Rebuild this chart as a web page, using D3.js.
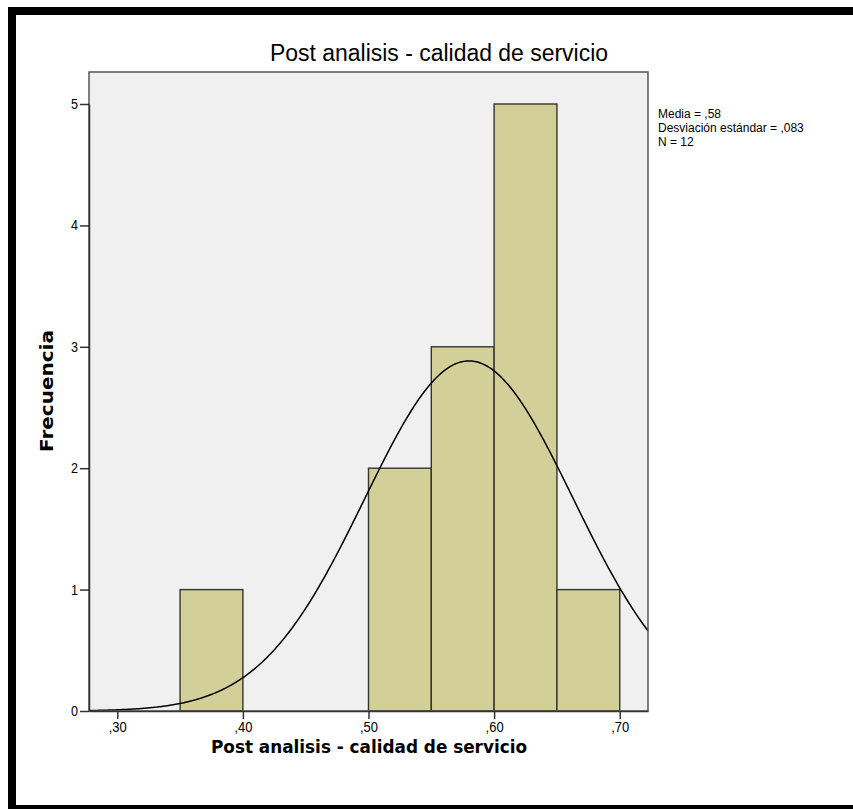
<!DOCTYPE html>
<html>
<head>
<meta charset="utf-8">
<script src="https://cdn.jsdelivr.net/npm/d3@7/dist/d3.min.js"></script>
<style>
  html, body { margin: 0; padding: 0; background: #fff; }
  svg { display: block; }
  text { font-family: "Liberation Sans", Arial, sans-serif; fill: #000; }
</style>
</head>
<body>
<script>
// Histogram bins (class limits) and their frequencies
const binStart = [0.35, 0.50, 0.55, 0.60, 0.65];
const binEnd   = [0.40, 0.55, 0.60, 0.65, 0.70];
const counts   = [1, 2, 3, 5, 1];

// Summary statistics shown beside the plot
const mean = 0.58;
const stdDev = 0.083;
const nObs = 12;
const binWidth = 0.05;

const xTicks = [0.30, 0.40, 0.50, 0.60, 0.70];
const xTickLabels = [",30", ",40", ",50", ",60", ",70"];
const yTicks = [0, 1, 2, 3, 4, 5];
const statLines = ["Media = ,58", "Desviación estándar = ,083", "N = 12"];

const title = "Post analisis - calidad de servicio";
const xTitle = "Post analisis - calidad de servicio";
const yTitle = "Frecuencia";

const W = 853, H = 809;
const plot = { left: 89, right: 648, top: 72, bottom: 711 };

const svg = d3.select("body").append("svg").attr("width", W).attr("height", H);

// heavy frame around the chart
svg.append("path")
  .attr("d", `M8,7H853V809H8Z M16,15V805H853V15Z`)
  .attr("fill", "#000")
  .attr("fill-rule", "evenodd");

const x = d3.scaleLinear().domain([0.2775, 0.7225]).range([plot.left, plot.right]);
const y = d3.scaleLinear().domain([0, 5]).range([plot.bottom, plot.bottom - 5 * 121.4]);

// plot background
svg.append("rect")
  .attr("x", plot.left).attr("y", plot.top)
  .attr("width", plot.right - plot.left).attr("height", plot.bottom - plot.top)
  .attr("fill", "#f0f0f0");

// bars
svg.append("g").selectAll("rect")
  .data(counts)
  .join("rect")
  .attr("x", (d, i) => x(binStart[i]))
  .attr("width", (d, i) => x(binEnd[i]) - x(binStart[i]))
  .attr("y", d => y(d))
  .attr("height", d => y(0) - y(d))
  .attr("fill", "#d3cf98")
  .attr("stroke", "#35352c")
  .attr("stroke-width", 1.4);

// fitted normal curve scaled to frequency
const normal = v => nObs * binWidth / (stdDev * Math.sqrt(2 * Math.PI)) *
  Math.exp(-0.5 * Math.pow((v - mean) / stdDev, 2));
const xs = d3.range(0, 401).map(i => x.domain()[0] + (x.domain()[1] - x.domain()[0]) * i / 400);
svg.append("path")
  .datum(xs)
  .attr("d", d3.line().x(v => x(v)).y(v => y(normal(v))))
  .attr("fill", "none")
  .attr("stroke", "#000")
  .attr("stroke-width", 1.5);

// plot frame
svg.append("rect")
  .attr("x", plot.left).attr("y", plot.top)
  .attr("width", plot.right - plot.left).attr("height", plot.bottom - plot.top)
  .attr("fill", "none")
  .attr("stroke", "#555")
  .attr("stroke-width", 1.5);

// axes
const xAxis = d3.axisBottom(x).tickValues(xTicks)
  .tickFormat((d, i) => xTickLabels[i]).tickSize(8).tickSizeOuter(0).tickPadding(3);
const gx = svg.append("g").attr("transform", `translate(0,${plot.bottom})`).call(xAxis);
gx.select(".domain").attr("stroke", "#333").attr("stroke-width", 1.5);
gx.selectAll(".tick line").attr("stroke", "#333").attr("stroke-width", 1.5);
gx.selectAll(".tick text").attr("font-size", 14).attr("fill", "#000")
  .attr("textLength", 18).attr("lengthAdjust", "spacingAndGlyphs")
  .style("font-family", "'Liberation Sans', sans-serif");

const yAxis = d3.axisLeft(y).tickValues(yTicks).tickFormat(d3.format("d"))
  .tickSize(9).tickSizeOuter(0).tickPadding(2);
const gy = svg.append("g").attr("transform", `translate(${plot.left},0)`).call(yAxis);
gy.select(".domain").attr("stroke", "#333").attr("stroke-width", 1.5);
gy.selectAll(".tick line").attr("stroke", "#333").attr("stroke-width", 1.5);
gy.selectAll(".tick text").attr("font-size", 14).attr("fill", "#000")
  .attr("textLength", 7).attr("lengthAdjust", "spacingAndGlyphs")
  .style("font-family", "'Liberation Sans', sans-serif");

// titles
svg.append("text")
  .attr("x", 439).attr("y", 61)
  .attr("text-anchor", "middle")
  .attr("font-size", 23)
  .attr("textLength", 338).attr("lengthAdjust", "spacingAndGlyphs")
  .text(title);

svg.append("text")
  .attr("x", 369).attr("y", 753)
  .attr("text-anchor", "middle")
  .attr("font-size", 18.5)
  .attr("font-weight", "bold")
  .attr("textLength", 316).attr("lengthAdjust", "spacingAndGlyphs")
  .style("font-family", "'DejaVu Sans Condensed', 'DejaVu Sans', sans-serif")
  .text(xTitle);

svg.append("text")
  .attr("transform", `translate(53,391) rotate(-90)`)
  .attr("text-anchor", "middle")
  .attr("font-size", 18)
  .attr("font-weight", "bold")
  .attr("textLength", 122).attr("lengthAdjust", "spacingAndGlyphs")
  .style("font-family", "'DejaVu Sans', sans-serif")
  .text(yTitle);

// statistics block
svg.append("g").selectAll("text")
  .data(statLines)
  .join("text")
  .attr("x", 658)
  .attr("y", (d, i) => 118 + i * 14)
  .attr("font-size", 12)
  .text(d => d);
</script>
</body>
</html>
